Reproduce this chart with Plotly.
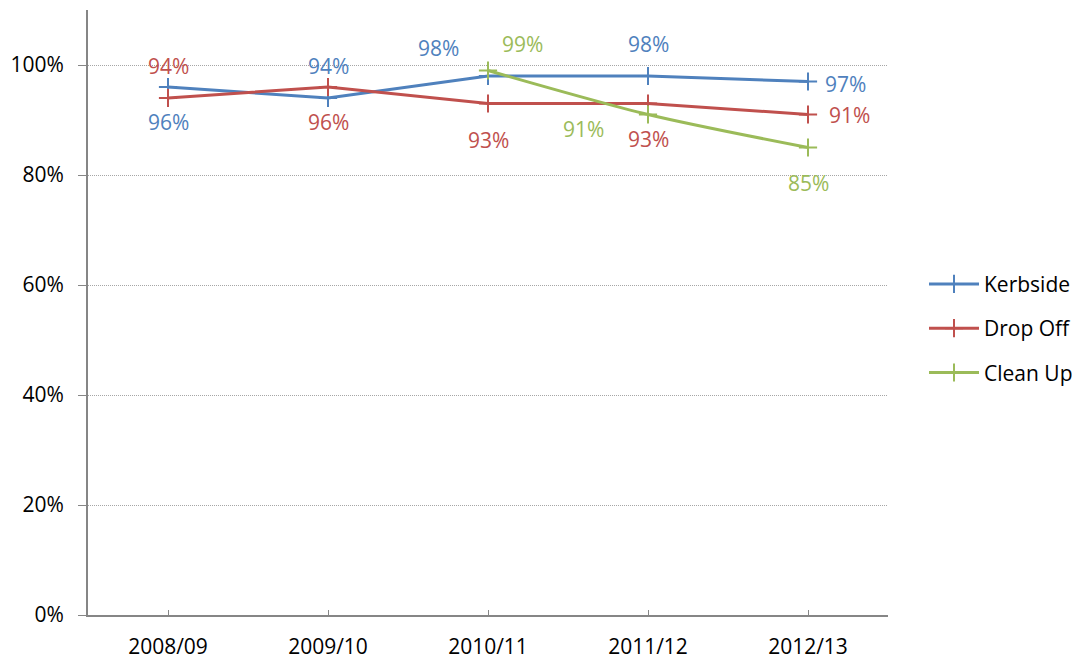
import plotly.graph_objects as go

categories = ["2008/09", "2009/10", "2010/11", "2011/12", "2012/13"]
kerbside = [96, 94, 98, 98, 97]
drop_off = [94, 96, 93, 93, 91]
clean_up = [None, None, 99, 91, 85]
y_ticks = [0, 20, 40, 60, 80, 100]
y_tick_labels = ["0%", "20%", "40%", "60%", "80%", "100%"]

# label offsets (xshift, yshift) in px, styling only
label_offsets = {
    "Kerbside": [(0, -35), (0, 32), (-50, 28), (0, 32), (37, -2)],
    "Drop Off": [(0, 32), (0, -35), (0, -36), (0, -35), (41, 0)],
    "Clean Up": [None, None, (34, 27), (-65, -14), (0, -35)],
}

series = [
    ("Kerbside", kerbside, "#4F81BD", "#4F81BD", "linear"),
    ("Drop Off", drop_off, "#C0504D", "#C0504D", "linear"),
    ("Clean Up", clean_up, "#9BBB59", "#92D050", "spline"),
]

FONT = "Open Sans"
FS = 21

fig = go.Figure()
annotations = []
for name, vals, col, mcol, shape in series:
    fig.add_trace(go.Scatter(
        x=categories, y=vals, name=name, mode="lines+markers",
        line=dict(color=col, width=3, shape=shape, smoothing=0.8),
        marker=dict(symbol="cross-thin-open", size=13, line=dict(color=mcol, width=2)),
        connectgaps=False, legendgroup=name,
    ))
    for i, v in enumerate(vals):
        if v is None:
            continue
        dx, dy = label_offsets[name][i]
        annotations.append(dict(
            x=categories[i], y=v, text=f"{v}%", showarrow=False,
            xshift=dx, yshift=dy, font=dict(family=FONT, size=FS, color=col),
        ))

# page has an 8px body margin, so the figure is sized/margined to compensate
fig.update_layout(
    width=1072, height=653,
    margin=dict(l=80, r=190, t=2, b=46),
    plot_bgcolor="white", paper_bgcolor="white",
    font=dict(family=FONT, size=FS, color="black"),
    annotations=annotations,
    legend=dict(x=1.045, y=0.474, xanchor="left", yanchor="middle",
                font=dict(family=FONT, size=FS, color="black"),
                tracegroupgap=14, itemwidth=50),
    showlegend=True,
)
fig.update_xaxes(
    type="category", range=[-0.5, 4.5], automargin=False,
    showline=True, linecolor="#868686", linewidth=2,
    ticks="inside", ticklen=5, tickcolor="#868686", tickwidth=1,
    showgrid=False, ticklabelstandoff=12,
    tickfont=dict(family=FONT, size=FS, color="black"),
)
fig.update_yaxes(
    range=[0, 110], tickvals=y_ticks, ticktext=y_tick_labels, automargin=False,
    showline=True, linecolor="#868686", linewidth=2,
    ticks="outside", ticklen=8, tickcolor="#868686", tickwidth=1,
    showgrid=True, gridcolor="#A6A6A6", griddash="1px,1px", gridwidth=1,
    zeroline=False, ticklabelstandoff=10,
    tickfont=dict(family=FONT, size=FS, color="black"),
)

fig.write_html("out.html")
